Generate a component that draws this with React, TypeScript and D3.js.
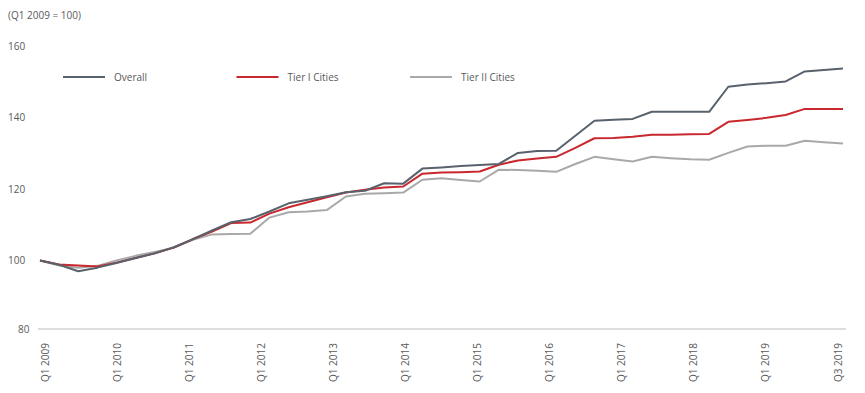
import { FC } from 'react'
import * as d3 from 'd3'

const quarters = [
  'Q1 2009', 'Q2 2009', 'Q3 2009', 'Q4 2009',
  'Q1 2010', 'Q2 2010', 'Q3 2010', 'Q4 2010',
  'Q1 2011', 'Q2 2011', 'Q3 2011', 'Q4 2011',
  'Q1 2012', 'Q2 2012', 'Q3 2012', 'Q4 2012',
  'Q1 2013', 'Q2 2013', 'Q3 2013', 'Q4 2013',
  'Q1 2014', 'Q2 2014', 'Q3 2014', 'Q4 2014',
  'Q1 2015', 'Q2 2015', 'Q3 2015', 'Q4 2015',
  'Q1 2016', 'Q2 2016', 'Q3 2016', 'Q4 2016',
  'Q1 2017', 'Q2 2017', 'Q3 2017', 'Q4 2017',
  'Q1 2018', 'Q2 2018', 'Q3 2018', 'Q4 2018',
  'Q1 2019', 'Q2 2019', 'Q3 2019'
]

const overall = [
  100, 98.8, 97.0, 98.0, 99.3, 100.7, 102.0, 103.7, 106.0, 108.4, 110.7,
  111.6, 113.7, 116.0, 117.0, 118.0, 119.1, 119.5, 121.6, 121.5, 125.7,
  126.0, 126.4, 126.7, 127.0, 130.1, 130.6, 130.7, 134.9, 139.1, 139.4,
  139.6, 141.6, 141.6, 141.6, 141.6, 148.6, 149.2, 149.6, 150.1, 152.9,
  153.3, 153.7
]

const tier1 = [
  100, 98.9, 98.6, 98.3, 99.4, 100.7, 102.0, 103.6, 106.0, 108.1, 110.5,
  110.6, 113.1, 114.9, 116.3, 117.7, 119.0, 119.8, 120.4, 120.7, 124.3,
  124.6, 124.7, 124.9, 126.8, 128.0, 128.5, 129.0, 131.5, 134.2, 134.3,
  134.6, 135.2, 135.2, 135.3, 135.4, 138.8, 139.3, 139.9, 140.7, 142.4,
  142.4, 142.4
]

const tier2 = [
  100, 98.6, 98.0, 98.5, 100.0, 101.3, 102.4, 103.6, 105.8, 107.3, 107.4,
  107.5, 112.0, 113.5, 113.7, 114.1, 117.9, 118.7, 118.8, 119.0, 122.6,
  123.0, 122.5, 122.1, 125.4, 125.3, 125.1, 124.8, 127.0, 129.0, 128.3,
  127.7, 129.0, 128.6, 128.3, 128.2, 130.1, 131.9, 132.1, 132.1, 133.5,
  133.1, 132.7
]

const axisLabels = [
  'Q1 2009', 'Q1 2010', 'Q1 2011', 'Q1 2012', 'Q1 2013', 'Q1 2014',
  'Q1 2015', 'Q1 2016', 'Q1 2017', 'Q1 2018', 'Q1 2019', 'Q3 2019'
]

const yTicks = [80, 100, 120, 140, 160]

const seriesNames = ['Overall', 'Tier I Cities', 'Tier II Cities']
const seriesData = [overall, tier1, tier2]
const colors = ['#58626c', '#c8282e', '#a9a9a9']

const W = 865
const H = 393
const FONT = '"Open Sans", "Noto Sans", sans-serif'
const TEXT = '#595959'

const App: FC = () => {
  const x = d3.scalePoint<string>().domain(quarters).range([40, 843])
  const xLab = d3.scalePoint<string>().domain(axisLabels).range([45, 838])
  const y = d3.scaleLinear().domain([80, 160]).range([332, 46])
  const legendX = d3.scalePoint<string>().domain(seriesNames).range([63, 410])

  const line = d3.line<number>()
    .x((_, i) => x(quarters[i]) ?? 0)
    .y(d => y(d))

  return (
    <svg width={W} height={H} style={{ position: 'absolute', left: 0, top: 0, background: '#fff' }}
      fontFamily={FONT}>
      <text x={8} y={15} dy="0.35em" fontSize={10} fill={TEXT}>(Q1 2009 = 100)</text>

      {yTicks.map(t => (
        <text key={t} x={t === 80 ? 18 : 8} y={t === 80 ? 329 : y(t)} dy="0.35em" fontSize={10} fill={TEXT}>{t}</text>
      ))}

      <line x1={38} x2={846} y1={329} y2={329} stroke="#bdbdbd" strokeWidth={1} />

      {axisLabels.map(l => (
        <text key={l} transform={`translate(${xLab(l)},343) rotate(-90)`} textAnchor="end"
          dy="0.35em" fontSize={10} fill={TEXT}>{l}</text>
      ))}

      {seriesData.map((s, k) => (
        <path key={seriesNames[k]} d={line(s) ?? ''} fill="none" stroke={colors[k]}
          strokeWidth={2} strokeLinejoin="round" />
      )).reverse()}

      {seriesNames.map((n, k) => {
        const lx = legendX(n) ?? 0
        return (
          <g key={n} transform={`translate(${lx},77)`}>
            <line x1={0} x2={42} y1={0} y2={0} stroke={colors[k]} strokeWidth={2} />
            <text x={51} y={0} dy="0.35em" fontSize={10} fill={TEXT}>{n}</text>
          </g>
        )
      })}
    </svg>
  )
}

export default App
